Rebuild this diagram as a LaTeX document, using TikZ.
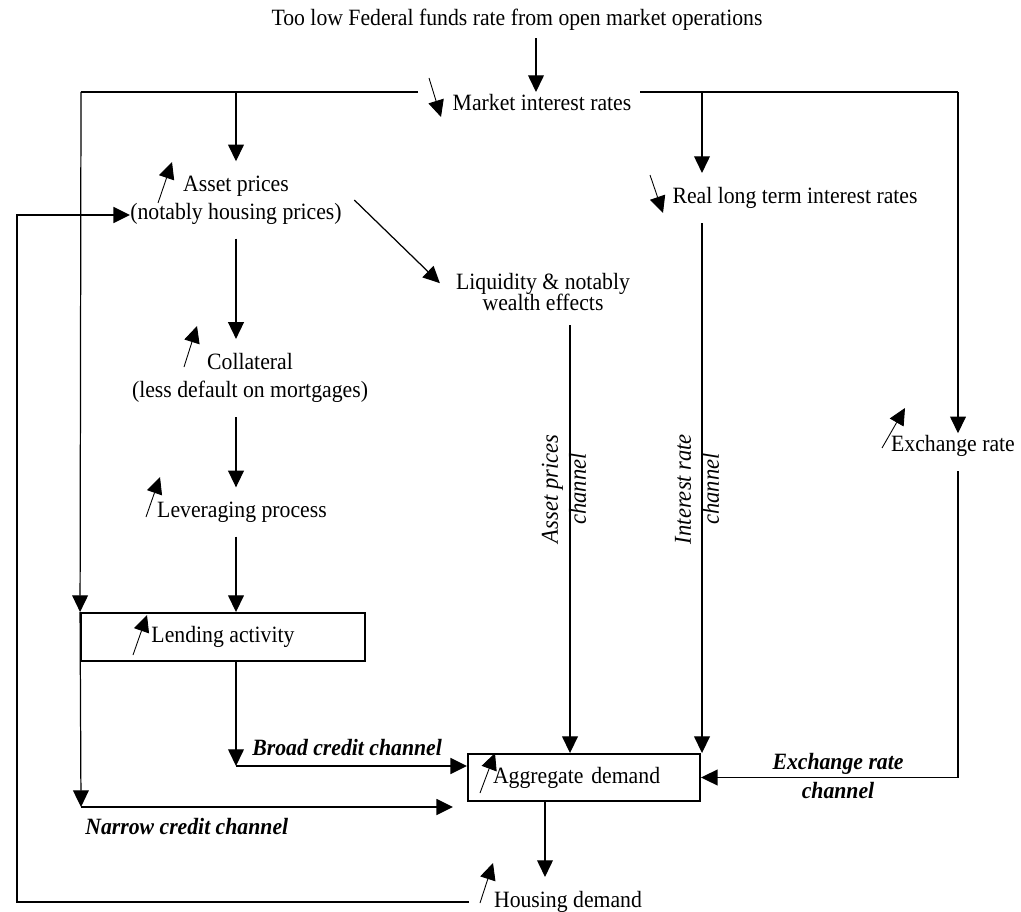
\documentclass[tikz,border=0pt]{standalone}
\usepackage{fontspec}
\setmainfont{Liberation Serif}[FakeStretch=0.93]
\usepackage{tikz}
\usetikzlibrary{arrows.meta}

\begin{document}
\begin{tikzpicture}[x=0.02cm, y=-0.02cm,
    >={Triangle[length=9.5pt,width=9pt]},
    font=\fontsize{13.3}{16}\selectfont,
    txt/.style={inner xsep=0pt, inner ysep=8pt, align=center},
    chan/.style={inner sep=0pt, align=center, font=\fontsize{13.3}{16}\selectfont\bfseries\itshape},
    vchan/.style={inner sep=0pt, align=center, rotate=90, font=\fontsize{13.8}{16}\selectfont\itshape},
    boxed/.style={draw, line width=1.1pt},
    conn/.style={line width=0.7pt},
    hline/.style={line width=1.3pt},
    updown/.style={->, line width=0.5pt}]
  \useasboundingbox (0,0) rectangle (1021,912);

  % nodes
  \node[txt] (title) at (517,20) {Too low Federal funds rate from open market operations};
  \node[txt] (market) at (542,103) {Market interest rates};
  \node[txt] (asset) at (236,200) {Asset prices\\(notably housing prices)};
  \node[txt] (realrate) at (795,198) {Real long term interest rates};
  \node[txt, font=\fontsize{13.3}{12.3}\selectfont] (liquidity) at (543,292) {Liquidity \& notably\\wealth effects};
  \node[txt] (collateral) at (250,378) {Collateral\\(less default on mortgages)};
  \node[txt] (leverage) at (242,512) {Leveraging process};
  \node[txt] (exchange) at (953,446) {Exchange rate};
  \node[boxed, minimum width=5.68cm, minimum height=0.96cm] (lending) at (223,637) {Lending activity};
  \node[boxed, minimum height=0.94cm, inner xsep=0.5cm, text width=3.64cm, align=left] (agg) at (584,777.5) {Aggregate demand};
  \node[txt] (housing) at (568,902) {Housing demand};

  % corners and columns
  \coordinate (tl) at (81,92);
  \coordinate (tr) at (958,92);
  \coordinate (mL) at (418,92);
  \coordinate (mR) at (640,92);
  \coordinate (tm) at (536,92);
  \coordinate (colA) at (570,0);
  \coordinate (colI) at (702,0);
  \coordinate (colH) at (545,0);
  \coordinate (nc) at (81,807);
  \coordinate (ncend) at (453,807);
  \coordinate (bc) at (236,766);
  \coordinate (loopB) at (17,902);
  \coordinate (loopT) at (17,215);

  % top line
  \draw[conn,->,shorten <=-4pt] (title.south -| tm) -- (tm);
  \draw[hline] (mL) -- (tl);
  \draw[hline] (mR) -- (tr);

  % credit channels
  \draw[conn,->] (tl) -- (lending.north west);
  \draw[conn,->] (lending.north west) -- (nc);
  \draw[hline,->] (nc) -- (ncend);
  \draw[conn,->] (asset.south |- tm) -- (asset.north);
  \draw[conn,->] (asset.south) -- (asset.south |- collateral.north);
  \draw[conn,->] (asset.south |- collateral.south) -- (asset.south |- leverage.north);
  \draw[conn,->] (asset.south |- leverage.south) -- (asset.south |- lending.north);
  \draw[conn,->] (asset.south |- lending.south) -- (bc);
  \draw[hline,->] (bc) -- (agg.west |- bc);

  % asset prices channel
  \draw[conn,->] ([xshift=7pt]asset.east) -- ([xshift=-9pt,yshift=5pt]liquidity.west);
  \draw[conn,->] (liquidity.south -| colA) -- (agg.north -| colA);

  % interest rate channel
  \draw[conn,->] (colI |- tr) -- (realrate.north -| colI);
  \draw[conn,->] (realrate.south -| colI) -- (agg.north -| colI);

  % exchange rate channel
  \draw[conn,->,shorten >=-7pt] (tr) -- (tr |- exchange.north);
  \draw[line width=0.9pt,->] (tr |- exchange.south) -- (tr |- agg.east) -- (agg.east);

  % housing demand and feedback loop
  \draw[conn,->] (agg.south -| colH) -- (housing.north -| colH);
  \draw[hline,->] ([xshift=-14pt]housing.west) -- (loopB) -- (loopT) -- (loopT -| asset.west);

  % channel labels
  \node[chan, anchor=west] (broad) at (252,748) {Broad credit channel};
  \node[chan, anchor=west] (narrow) at (85,827) {Narrow credit channel};
  \node[chan] (exchlbl) at (838,776) {Exchange rate\\channel};
  \node[vchan] (assetlbl) at (564,489) {Asset prices\\channel};
  \node[vchan] (ratelbl) at (697,489) {Interest rate\\channel};

  % up and down marks
  \foreach \xa/\ya/\xb/\yb in {429/78/441/117, 650/175/663/213, 158/203/172/162,
      184/367/197/326, 146/517/160/477, 133/655/147/615, 882/448/905/408,
      480/793/495/753, 480/903/493/863}
    \draw[updown] (\xa,\ya) -- (\xb,\yb);
\end{tikzpicture}
\end{document}
